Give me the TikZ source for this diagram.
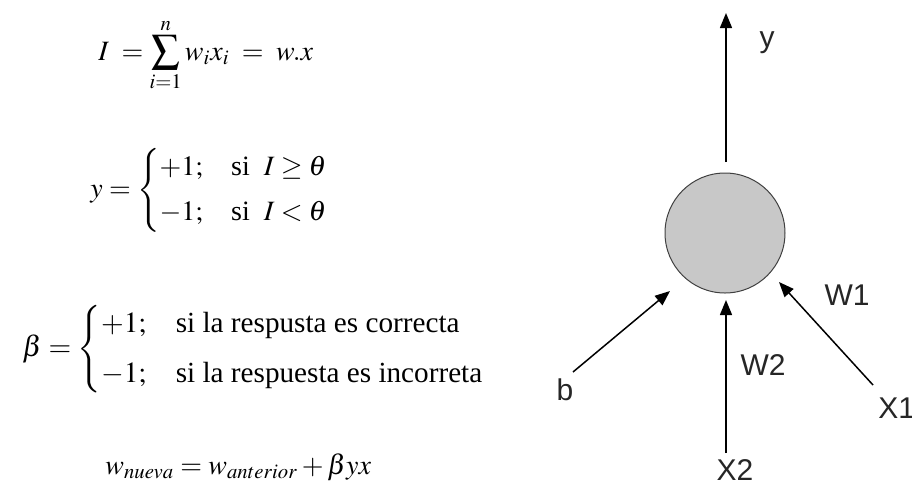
\documentclass[tikz,border=0pt]{standalone}
\usepackage{amsmath}
\usepackage{mathptmx}
\usepackage{fontspec}
\setmainfont{Liberation Serif}
\newfontfamily\lblfont{Liberation Sans}
\usetikzlibrary{arrows.meta}
\definecolor{neurongray}{RGB}{200,200,200}
\tikzset{
  formula/.style={inner sep=0pt, font=\fontsize{14}{17}\selectfont},
  bigformula/.style={inner sep=0pt, font=\fontsize{14.6}{17.5}\selectfont},
  lbl/.style={inner sep=0pt, font=\lblfont\fontsize{15}{18}\selectfont, text=black!85},
  neuron/.style={circle, draw=black!75, line width=0.5pt, fill=neurongray, minimum size=60pt, inner sep=0pt},
  conn/.style={line width=0.75pt, -{Triangle[length=7.5pt,width=6pt]}}
}
\begin{document}
\begin{tikzpicture}[x=0.5pt,y=-0.5pt]
\useasboundingbox (0,0) rectangle (912,489);
% formulas
\node[formula, anchor=base west] (f1) at (98,60) {$\displaystyle I\;=\sum_{i=1}^{n} w_i x_i \;=\; w.x$};
\node[formula, anchor=west] (f2) at (90,190) {$y=\begin{cases}+1; & \text{si}\ \ I\geq\theta\\[2pt] -1; & \text{si}\ \ I<\theta\end{cases}$};
\node[bigformula, anchor=west] (f3) at (22,349) {$\beta=\begin{cases}+1; & \text{si la respusta es correcta}\\[4pt] -1; & \text{si la respuesta es incorreta}\end{cases}$};
\node[formula, anchor=base west] (f4) at (105,474) {$w_{nueva} = w_{anterior} + \beta y x$};
% neuron
\node[neuron] (n) at (725,233) {};
\coordinate (ybot) at (726,162);
\coordinate (ytop) at (726,13);
\coordinate (bstart) at (573,372);
\coordinate (btip) at (670,291);
\coordinate (x2start) at (726,453);
\coordinate (x2tip) at (726,300);
\coordinate (x1start) at (873,385);
\coordinate (x1tip) at (779,282);
\draw[conn] (ybot) -- (ytop);
\draw[conn] (bstart) -- (btip);
\draw[conn] (x2start) -- (x2tip);
\draw[conn] (x1start) -- (x1tip);
% labels
\node[lbl] (ly) at (767,43) {y};
\node[lbl] (lb) at (565,390) {b};
\node[lbl] (lw2) at (763,365) {W2};
\node[lbl] (lx2) at (735,470) {X2};
\node[lbl] (lw1) at (847,295) {W1};
\node[lbl, anchor=west] (lx1) at (878,408) {X1};
\end{tikzpicture}
\end{document}
